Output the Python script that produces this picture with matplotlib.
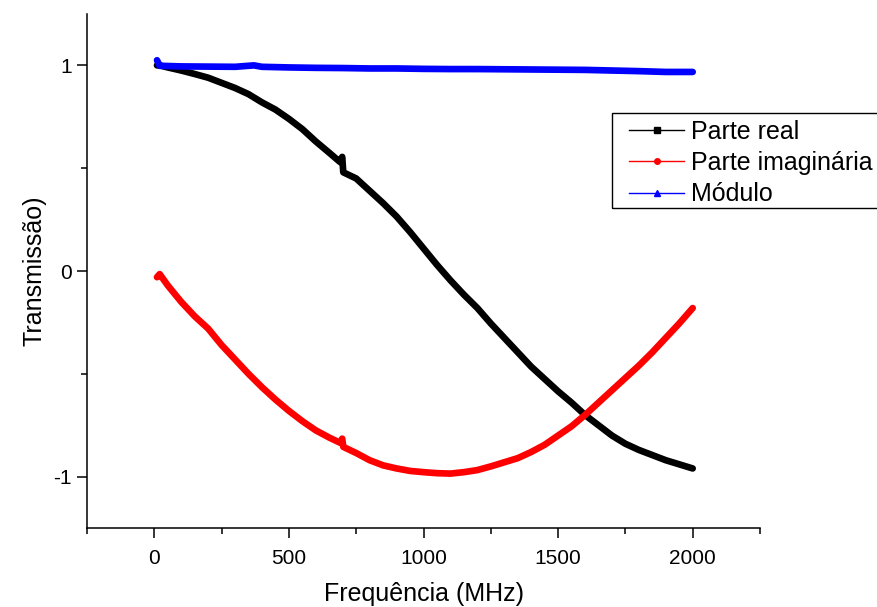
import matplotlib
matplotlib.use("Agg")
import matplotlib.pyplot as plt
from matplotlib.lines import Line2D
from matplotlib.patches import Rectangle
from matplotlib.ticker import MultipleLocator

plt.rcParams['font.family'] = ['Liberation Sans', 'DejaVu Sans']
plt.rcParams['axes.unicode_minus'] = False

# frequency points (MHz) shared by real and imaginary parts
freq = [10, 20, 50, 100, 150, 200, 250, 300, 350, 400, 450, 500, 550, 600,
        650, 690, 698, 702, 750, 800, 850, 900, 950, 1000, 1050, 1100, 1150,
        1200, 1250, 1300, 1350, 1400, 1450, 1500, 1550, 1600, 1650, 1700,
        1750, 1800, 1850, 1900, 1950, 2000]

parte_real = [1.00, 1.00, 0.99, 0.975, 0.958, 0.94, 0.915, 0.89, 0.86, 0.82,
              0.785, 0.74, 0.69, 0.63, 0.575, 0.53, 0.555, 0.48, 0.45, 0.39,
              0.33, 0.265, 0.19, 0.11, 0.03, -0.045, -0.115, -0.18, -0.255,
              -0.325, -0.395, -0.465, -0.525, -0.585, -0.64, -0.70, -0.75,
              -0.80, -0.84, -0.87, -0.895, -0.92, -0.94, -0.96]

parte_imag = [-0.03, -0.015, -0.07, -0.15, -0.22, -0.28, -0.36, -0.43, -0.50,
              -0.565, -0.625, -0.68, -0.73, -0.775, -0.81, -0.835, -0.815,
              -0.855, -0.885, -0.92, -0.945, -0.96, -0.972, -0.978, -0.983,
              -0.985, -0.978, -0.968, -0.95, -0.93, -0.91, -0.88, -0.845,
              -0.80, -0.755, -0.70, -0.64, -0.58, -0.52, -0.46, -0.395,
              -0.325, -0.255, -0.18]

freq_mod = [10, 20, 100, 200, 300, 370, 400, 500, 600, 700, 800, 900, 1000,
            1100, 1200, 1300, 1400, 1500, 1600, 1700, 1800, 1900, 2000]
modulo = [1.025, 0.998, 0.995, 0.994, 0.993, 1.0, 0.993, 0.99, 0.988, 0.987,
          0.985, 0.985, 0.983, 0.982, 0.982, 0.981, 0.98, 0.979, 0.978,
          0.975, 0.972, 0.968, 0.968]

fig = plt.figure(figsize=(8.77, 6.07), dpi=100)
ax = fig.add_axes([0.0992, 0.130, 0.7674, 0.847])

kw = dict(lw=4.8, solid_capstyle='round', solid_joinstyle='round')
ax.plot(freq, parte_real, color='black', **kw)
ax.plot(freq, parte_imag, color='red', **kw)
ax.plot(freq_mod, modulo, color='blue', **kw)

ax.set_xlim(-250, 2250)
ax.set_ylim(-1.25, 1.25)
ax.xaxis.set_major_locator(MultipleLocator(500))
ax.xaxis.set_minor_locator(MultipleLocator(250))
ax.yaxis.set_major_locator(MultipleLocator(1))
ax.yaxis.set_minor_locator(MultipleLocator(0.5))
ax.tick_params(which='major', direction='out', length=7, width=1.1,
               labelsize=15, pad=4)
ax.tick_params(axis='x', which='major', pad=8)
ax.tick_params(which='minor', direction='out', length=4, width=1.1)
for s in ['top', 'right']:
    ax.spines[s].set_visible(False)
for s in ['left', 'bottom']:
    ax.spines[s].set_linewidth(1.1)

ax.set_xlabel('Frequência (MHz)', fontsize=18, labelpad=10)
ax.set_ylabel('Transmissão)', fontsize=18, labelpad=5)

# legend box runs past the right edge of the figure
fig.patches.append(Rectangle((612 / 877, 1 - 208 / 607), 0.4, 95 / 607,
                             transform=fig.transFigure, fill=False,
                             edgecolor='black', lw=1.0))

handles = [
    Line2D([], [], color='black', lw=1, marker='s', markersize=4),
    Line2D([], [], color='red', lw=1, marker='o', markersize=4),
    Line2D([], [], color='blue', lw=1, marker='^', markersize=4),
]
labels = ['Parte real', 'Parte imaginária', 'Módulo']
fig.legend(handles, labels, loc='upper left',
           bbox_to_anchor=(629 / 877, 1 - 120 / 607), fontsize=18,
           frameon=False, handlelength=2.2, handletextpad=0.28,
           labelspacing=0.29, borderpad=0, borderaxespad=0)

fig.savefig('out.png', dpi=100)
